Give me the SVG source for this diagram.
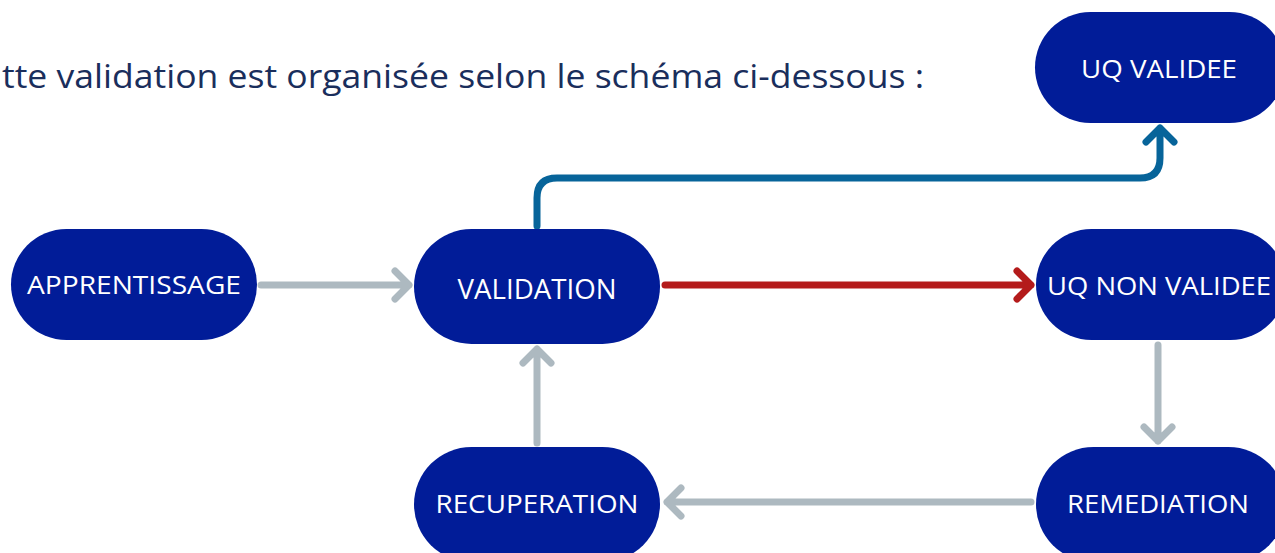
<svg xmlns="http://www.w3.org/2000/svg" width="1275" height="553" viewBox="0 0 1275 553">
<style>
.node rect{fill:#011c98}
.node text{fill:#ffffff;font-family:"Open Sans","Noto Sans",sans-serif;font-size:26px;text-anchor:middle}
.c{fill:none;stroke-width:7;stroke-linecap:round;stroke-linejoin:round}
.g{stroke:#adb9c0}
.b{stroke:#07649a}
.r{stroke:#b41b1b}
</style>
<rect width="1275" height="553" fill="#ffffff"/>
<text x="2" y="88" font-family="'Open Sans','Noto Sans',sans-serif" font-size="32" fill="#1a2e5c" textLength="922" lengthAdjust="spacingAndGlyphs">tte validation est organisée selon le schéma ci-dessous :</text>
<g id="connectors">
<path class="c g" d="M261 285 H409 M395 271 L409 285 L395 299"/>
<path class="c b" d="M537 226 V198 Q537 178 557 178 H1140 Q1160 178 1160 158 V128 M1146 142 L1160 128 L1174 142"/>
<path class="c r" d="M665 285 H1031 M1017 271 L1031 285 L1017 299"/>
<path class="c g" d="M1158 345 V441 M1144 427 L1158 441 L1172 427"/>
<path class="c g" d="M1031 502 H667 M681 488 L667 502 L681 516"/>
<path class="c g" d="M537 443 V349 M523 363 L537 349 L551 363"/>
</g>
<g id="apprentissage" class="node"><rect x="11" y="229" width="246" height="111" rx="55.5"/><text x="134" y="294" textLength="214" lengthAdjust="spacingAndGlyphs">APPRENTISSAGE</text></g>
<g id="validation" class="node"><rect x="414" y="229" width="246" height="115" rx="57.5"/><text x="537" y="299" style="font-size:27px" textLength="159" lengthAdjust="spacingAndGlyphs">VALIDATION</text></g>
<g id="uq-validee" class="node"><rect x="1035" y="12" width="250" height="111" rx="55.5"/><text x="1159" y="78" textLength="156" lengthAdjust="spacingAndGlyphs">UQ VALIDEE</text></g>
<g id="uq-non-validee" class="node"><rect x="1036" y="229" width="250" height="111" rx="55.5"/><text x="1159" y="295" textLength="224" lengthAdjust="spacingAndGlyphs">UQ NON VALIDEE</text></g>
<g id="recuperation" class="node"><rect x="414" y="447" width="246" height="115" rx="57.5"/><text x="537" y="513" textLength="203" lengthAdjust="spacingAndGlyphs">RECUPERATION</text></g>
<g id="remediation" class="node"><rect x="1036" y="447" width="250" height="115" rx="57.5"/><text x="1158" y="513" textLength="182" lengthAdjust="spacingAndGlyphs">REMEDIATION</text></g>
</svg>
